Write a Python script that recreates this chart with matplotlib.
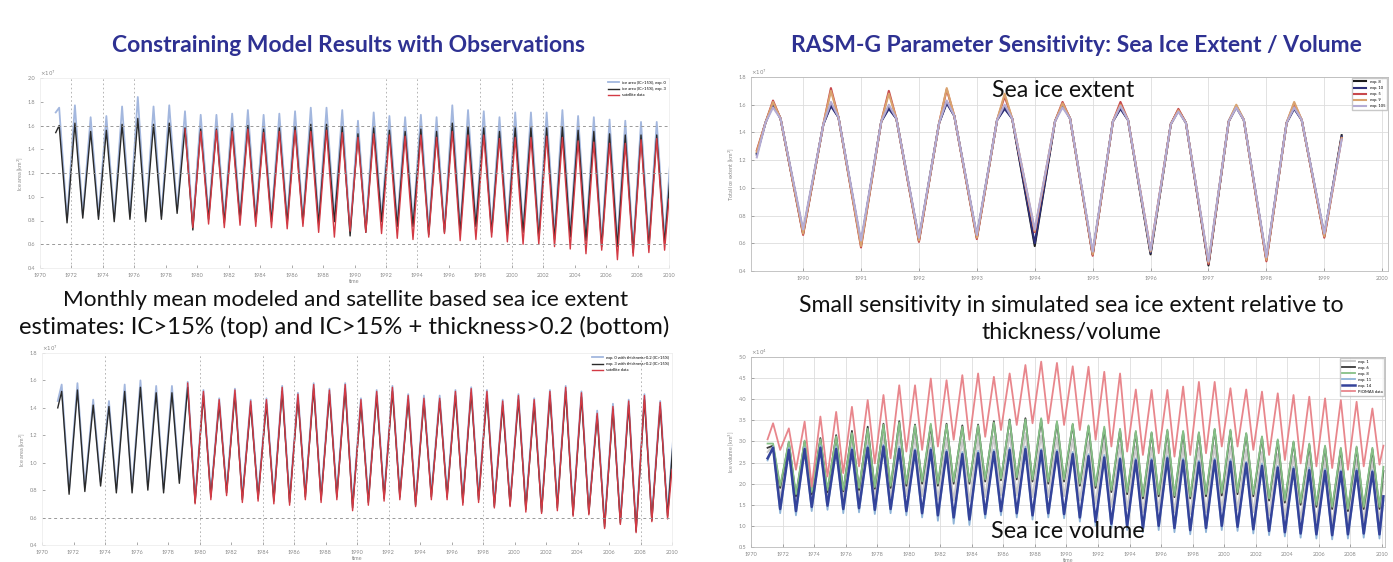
import numpy as np
import matplotlib.pyplot as plt

plt.rcParams['font.family'] = ['Lato', 'DejaVu Sans']

# ---------------- data (one value per yearly max / min) ----------------
# top left: monthly extent, IC>15%
tl_years = list(range(1971, 2010))
tl_blue_peaks = [1.75, 1.77, 1.67, 1.68, 1.76, 1.84, 1.76, 1.77, 1.72, 1.69,
                 1.69, 1.70, 1.73, 1.69, 1.70, 1.72, 1.75, 1.75, 1.73, 1.64,
                 1.71, 1.68, 1.67, 1.69, 1.67, 1.77, 1.73, 1.72, 1.67, 1.71,
                 1.71, 1.71, 1.73, 1.68, 1.67, 1.65, 1.64, 1.63, 1.63]
tl_blue_troughs = [0.81, 0.85, 0.84, 0.82, 0.84, 0.82, 0.84, 0.89, 0.76, 0.84,
                   0.81, 0.84, 0.82, 0.82, 0.81, 0.81, 0.80, 0.82, 0.71, 0.73,
                   0.82, 0.78, 0.78, 0.72, 0.73, 0.73, 0.78, 0.73, 0.72, 0.73,
                   0.69, 0.68, 0.70, 0.67, 0.62, 0.62, 0.57, 0.62, 0.65]
tl_black_peaks = [1.60, 1.62, 1.55, 1.56, 1.61, 1.66, 1.61, 1.62, 1.58, 1.57,
                  1.57, 1.58, 1.60, 1.57, 1.58, 1.59, 1.61, 1.61, 1.59, 1.53,
                  1.58, 1.56, 1.55, 1.57, 1.55, 1.62, 1.59, 1.58, 1.55, 1.58,
                  1.58, 1.58, 1.59, 1.56, 1.55, 1.53, 1.52, 1.52, 1.52]
tl_black_troughs = [0.78, 0.82, 0.81, 0.79, 0.81, 0.79, 0.81, 0.86, 0.72, 0.81,
                    0.78, 0.81, 0.79, 0.79, 0.78, 0.78, 0.77, 0.79, 0.67, 0.70,
                    0.79, 0.75, 0.75, 0.68, 0.70, 0.70, 0.75, 0.70, 0.68, 0.70,
                    0.65, 0.64, 0.66, 0.63, 0.58, 0.58, 0.53, 0.58, 0.61]
tl_red_years = list(range(1979, 2010))
tl_red_peaks = [1.57, 1.55, 1.56, 1.55, 1.57, 1.54, 1.55, 1.56, 1.55, 1.56,
                1.54, 1.50, 1.53, 1.52, 1.51, 1.52, 1.50, 1.55, 1.52, 1.52,
                1.49, 1.50, 1.50, 1.51, 1.50, 1.47, 1.46, 1.45, 1.45, 1.48, 1.49]
tl_red_troughs = [0.74, 0.77, 0.74, 0.76, 0.75, 0.74, 0.73, 0.75, 0.70, 0.66,
                  0.71, 0.70, 0.69, 0.65, 0.64, 0.66, 0.69, 0.63, 0.64, 0.66,
                  0.62, 0.60, 0.60, 0.58, 0.56, 0.52, 0.55, 0.47, 0.50, 0.53, 0.55]

# bottom left: IC>15% + thickness>0.2
bl_years = list(range(1971, 2010))
bl_blue_peaks = [1.57, 1.58, 1.46, 1.45, 1.57, 1.60, 1.56, 1.56, 1.59, 1.53,
                 1.47, 1.54, 1.46, 1.47, 1.56, 1.51, 1.58, 1.54, 1.58, 1.47,
                 1.53, 1.56, 1.50, 1.49, 1.49, 1.53, 1.55, 1.53, 1.46, 1.50,
                 1.47, 1.53, 1.56, 1.52, 1.38, 1.43, 1.46, 1.50, 1.45]
bl_blue_troughs = [0.80, 0.82, 0.86, 0.81, 0.81, 0.83, 0.81, 0.88, 0.74, 0.78,
                   0.81, 0.76, 0.77, 0.75, 0.74, 0.78, 0.76, 0.78, 0.70, 0.74,
                   0.77, 0.78, 0.72, 0.78, 0.78, 0.74, 0.76, 0.71, 0.72, 0.69,
                   0.67, 0.70, 0.65, 0.66, 0.56, 0.59, 0.53, 0.61, 0.64]
bl_black_peaks = [1.52, 1.53, 1.42, 1.41, 1.52, 1.55, 1.51, 1.51, 1.55, 1.49,
                  1.43, 1.50, 1.42, 1.43, 1.52, 1.47, 1.54, 1.50, 1.54, 1.43,
                  1.49, 1.52, 1.46, 1.45, 1.45, 1.49, 1.51, 1.49, 1.42, 1.46,
                  1.43, 1.49, 1.52, 1.48, 1.34, 1.39, 1.42, 1.46, 1.41]
bl_black_troughs = [0.77, 0.79, 0.83, 0.78, 0.78, 0.80, 0.78, 0.85, 0.71, 0.75,
                    0.78, 0.73, 0.74, 0.72, 0.71, 0.75, 0.73, 0.75, 0.67, 0.71,
                    0.74, 0.75, 0.69, 0.75, 0.75, 0.71, 0.73, 0.68, 0.69, 0.66,
                    0.64, 0.67, 0.62, 0.63, 0.53, 0.56, 0.50, 0.58, 0.61]
bl_red_years = list(range(1979, 2010))
bl_red_peaks = [1.58, 1.52, 1.46, 1.53, 1.45, 1.46, 1.55, 1.50, 1.57, 1.53,
                1.57, 1.46, 1.52, 1.55, 1.49, 1.47, 1.47, 1.52, 1.54, 1.52,
                1.45, 1.49, 1.46, 1.52, 1.55, 1.51, 1.36, 1.41, 1.45, 1.49, 1.44]
bl_red_troughs = [0.70, 0.73, 0.76, 0.71, 0.72, 0.70, 0.69, 0.73, 0.71, 0.73,
                  0.65, 0.69, 0.72, 0.73, 0.68, 0.73, 0.73, 0.69, 0.71, 0.67,
                  0.68, 0.64, 0.63, 0.65, 0.61, 0.62, 0.52, 0.55, 0.49, 0.57, 0.59]

# top right: sea ice extent, 5 experiments (minimum at each year tick)
tr_years = list(range(1990, 2000))
tr_names = ['exp. 8', 'exp. 10', 'exp. 5', 'exp. 9', 'exp. 105']
tr_peaks = {
    'exp. 8':   [1.61, 1.60, 1.58, 1.62, 1.58, 1.60, 1.58, 1.56, 1.59, 1.58],
    'exp. 10':  [1.60, 1.59, 1.57, 1.61, 1.57, 1.60, 1.57, 1.56, 1.58, 1.57],
    'exp. 5':   [1.63, 1.72, 1.70, 1.71, 1.66, 1.62, 1.62, 1.57, 1.59, 1.61],
    'exp. 9':   [1.62, 1.70, 1.68, 1.72, 1.68, 1.61, 1.60, 1.56, 1.60, 1.62],
    'exp. 105': [1.58, 1.62, 1.60, 1.63, 1.60, 1.58, 1.59, 1.55, 1.58, 1.58],
}
tr_troughs = {
    'exp. 8':   [0.67, 0.59, 0.62, 0.64, 0.58, 0.52, 0.52, 0.44, 0.48, 0.65],
    'exp. 10':  [0.68, 0.60, 0.63, 0.65, 0.60, 0.52, 0.53, 0.45, 0.49, 0.66],
    'exp. 5':   [0.66, 0.57, 0.61, 0.63, 0.68, 0.51, 0.55, 0.45, 0.47, 0.64],
    'exp. 9':   [0.67, 0.58, 0.62, 0.64, 0.69, 0.52, 0.54, 0.46, 0.48, 0.65],
    'exp. 105': [0.70, 0.62, 0.64, 0.66, 0.70, 0.54, 0.55, 0.47, 0.50, 0.67],
}
# shoulder values just before / after each winter maximum (all runs lie together there)
tr_rise_shoulder = [1.47, 1.46, 1.48, 1.47, 1.49, 1.48, 1.48, 1.46, 1.48, 1.47]
tr_fall_shoulder = [1.50, 1.51, 1.50, 1.52, 1.50, 1.50, 1.49, 1.47, 1.49, 1.49]
tr_start = {'exp. 8': 1.25, 'exp. 10': 1.24, 'exp. 5': 1.27, 'exp. 9': 1.26, 'exp. 105': 1.22}
tr_end = {'exp. 8': 1.38, 'exp. 10': 1.37, 'exp. 5': 1.36, 'exp. 9': 1.36, 'exp. 105': 1.35}
tr_colors = {'exp. 8': '#1c1c1c', 'exp. 10': '#2d2f78', 'exp. 5': '#c8484c',
             'exp. 9': '#d9a36e', 'exp. 105': '#b4acd4'}

# bottom right: sea ice volume, 5 experiments + PIOMAS
br_years = list(range(1971, 2010))
br_names = ['exp. 1', 'exp. 6', 'exp. 8', 'exp. 11', 'exp. 14', 'PIOMAS data']
br_peaks = {
    'exp. 1': [2.90, 2.90, 2.92, 2.95, 3.00, 3.05, 3.10, 3.15, 3.15, 3.10,
               3.12, 3.08, 3.05, 3.08, 3.12, 3.18, 3.20, 3.15, 3.10, 3.05,
               3.00, 2.98, 2.92, 2.88, 2.85, 2.90, 2.88, 2.85, 2.90, 2.88,
               2.82, 2.75, 2.70, 2.65, 2.60, 2.58, 2.55, 2.58, 2.55],
    'exp. 6': [2.90, 2.98, 3.00, 3.08, 3.15, 3.25, 3.35, 3.42, 3.48, 3.40,
               3.38, 3.42, 3.38, 3.40, 3.48, 3.52, 3.55, 3.52, 3.45, 3.40,
               3.35, 3.30, 3.28, 3.22, 3.20, 3.25, 3.22, 3.20, 3.28, 3.25,
               3.18, 3.10, 3.02, 2.98, 2.92, 2.88, 2.82, 2.85, 2.82],
    'exp. 8': [2.95, 3.00, 3.02, 3.05, 3.12, 3.20, 3.30, 3.40, 3.45, 3.38,
               3.42, 3.40, 3.35, 3.38, 3.45, 3.50, 3.52, 3.55, 3.48, 3.42,
               3.38, 3.35, 3.30, 3.25, 3.22, 3.28, 3.25, 3.22, 3.30, 3.28,
               3.20, 3.12, 3.05, 3.00, 2.95, 2.90, 2.85, 2.88, 2.85],
    'exp. 11': [2.88, 2.85, 2.86, 2.90, 2.88, 2.85, 2.90, 2.92, 2.88, 2.82,
                2.85, 2.80, 2.75, 2.78, 2.80, 2.85, 2.88, 2.82, 2.80, 2.75,
                2.70, 2.68, 2.62, 2.60, 2.60, 2.65, 2.60, 2.55, 2.60, 2.58,
                2.52, 2.48, 2.42, 2.40, 2.38, 2.35, 2.32, 2.35, 2.32],
    'exp. 14': [2.85, 2.80, 2.82, 2.85, 2.82, 2.80, 2.85, 2.88, 2.82, 2.78,
                2.80, 2.75, 2.70, 2.72, 2.75, 2.80, 2.82, 2.78, 2.75, 2.70,
                2.65, 2.62, 2.58, 2.55, 2.55, 2.60, 2.55, 2.50, 2.55, 2.52,
                2.48, 2.42, 2.38, 2.35, 2.32, 2.30, 2.28, 2.30, 2.28],
    'PIOMAS data': [3.43, 3.31, 3.47, 3.59, 3.70, 3.82, 3.98, 4.10, 4.33, 4.33,
                    4.49, 4.45, 4.57, 4.61, 4.53, 4.61, 4.81, 4.89, 4.86, 4.78,
                    4.77, 4.65, 4.61, 4.23, 4.22, 4.22, 4.30, 4.41, 4.41, 4.26,
                    4.23, 4.18, 4.14, 4.10, 4.06, 4.02, 3.98, 3.94, 3.78],
}
br_troughs = {
    'exp. 1': [1.65, 1.55, 1.60, 1.65, 1.62, 1.65, 1.65, 1.68, 1.70, 1.70,
               1.62, 1.60, 1.58, 1.68, 1.72, 1.72, 1.68, 1.68, 1.70, 1.60,
               1.52, 1.45, 1.40, 1.32, 1.38, 1.32, 1.28, 1.32, 1.38, 1.38,
               1.32, 1.25, 1.20, 1.15, 1.10, 1.05, 1.05, 1.10, 1.08],
    'exp. 6': [1.90, 1.70, 1.75, 1.80, 1.82, 1.85, 1.88, 1.90, 1.95, 2.00,
               1.95, 2.00, 2.00, 2.05, 2.08, 2.10, 2.05, 2.00, 2.05, 1.95,
               1.90, 1.80, 1.75, 1.65, 1.70, 1.68, 1.65, 1.70, 1.72, 1.75,
               1.70, 1.60, 1.55, 1.50, 1.45, 1.40, 1.35, 1.40, 1.40],
    'exp. 8': [1.95, 1.75, 1.80, 1.85, 1.85, 1.90, 1.92, 1.95, 2.00, 2.05,
               2.00, 2.05, 2.05, 2.10, 2.12, 2.15, 2.10, 2.05, 2.10, 2.00,
               1.95, 1.85, 1.80, 1.70, 1.75, 1.72, 1.70, 1.75, 1.78, 1.80,
               1.75, 1.65, 1.60, 1.55, 1.50, 1.45, 1.40, 1.45, 1.45],
    'exp. 11': [1.30, 1.25, 1.35, 1.38, 1.30, 1.32, 1.28, 1.30, 1.25, 1.20,
                1.12, 1.05, 1.02, 1.18, 1.25, 1.20, 1.15, 1.20, 1.18, 1.10,
                1.00, 0.95, 0.90, 0.85, 0.90, 0.85, 0.80, 0.85, 0.90, 0.88,
                0.82, 0.78, 0.75, 0.72, 0.70, 0.68, 0.70, 0.72, 0.70],
    'exp. 14': [1.40, 1.35, 1.45, 1.48, 1.40, 1.42, 1.38, 1.40, 1.35, 1.30,
                1.25, 1.20, 1.15, 1.28, 1.35, 1.30, 1.25, 1.30, 1.28, 1.20,
                1.10, 1.05, 1.00, 0.95, 1.00, 0.95, 0.90, 0.95, 1.00, 0.98,
                0.92, 0.88, 0.85, 0.82, 0.80, 0.78, 0.80, 0.82, 0.80],
    'PIOMAS data': [2.80, 2.33, 1.93, 2.17, 2.25, 2.41, 2.48, 2.60, 2.76, 2.80,
                    2.88, 3.04, 3.04, 3.11, 3.27, 3.39, 3.43, 3.43, 3.39, 3.27,
                    3.04, 2.88, 2.76, 2.68, 2.72, 2.64, 2.68, 2.72, 2.88, 2.88,
                    2.80, 2.68, 2.56, 2.48, 2.41, 2.37, 2.33, 2.41, 2.45],
}
br_start = {'exp. 1': 2.75, 'exp. 6': 2.85, 'exp. 8': 2.95, 'exp. 11': 2.55,
            'exp. 14': 2.6, 'PIOMAS data': 3.05}
br_end = {'exp. 1': 2.05, 'exp. 6': 2.3, 'exp. 8': 2.4, 'exp. 11': 1.6,
          'exp. 14': 1.7, 'PIOMAS data': 2.9}
br_colors = {'exp. 1': '#c9c9c9', 'exp. 6': '#3a3a3a', 'exp. 8': '#86c086',
             'exp. 11': '#8fb4d8', 'exp. 14': '#34439a', 'PIOMAS data': '#e8868c'}

tick_years = list(range(1970, 2012, 2))
title_color = '#2e3192'


def cycle_series(years, peaks, troughs, peak_off, trough_off, start=None, end=None,
                 rise=None, fall=None, shoulder_dt=0.15):
    # one point at each yearly maximum and minimum (plus optional shoulder points)
    t, v = [], []
    if start is not None:
        t.append(start[0])
        v.append(start[1])
    for i, (yr, p, tr) in enumerate(zip(years, peaks, troughs)):
        if rise is not None:
            t.append(yr + peak_off - shoulder_dt)
            v.append(rise[i])
        t.append(yr + peak_off)
        v.append(p)
        if fall is not None:
            t.append(yr + peak_off + shoulder_dt)
            v.append(fall[i])
        t.append(yr + trough_off)
        v.append(tr)
    if end is not None:
        t.append(end[0])
        v.append(end[1])
    return t, v


def style_axes(ax, spine_color='#d0d0d0'):
    for s in ax.spines.values():
        s.set_color(spine_color)
        s.set_linewidth(0.6)
    ax.tick_params(labelsize=4, colors='#888888', length=2, width=0.5, direction='in')


fig = plt.figure(figsize=(13.93, 5.62), dpi=100)
W, H = 1393.0, 562.0


def px_axes(l, t, r, b):
    return fig.add_axes([l / W, 1 - b / H, (r - l) / W, (b - t) / H])


# ---------------- top left ----------------
ax = px_axes(40, 78, 669, 268)
t, v = cycle_series(tl_years, tl_blue_peaks, tl_blue_troughs, 0.22, 0.72, (1971.0, 1.71), (2010.1, 1.34))
ax.plot(t, v, color='#a3b7de', lw=1.3, label='ice area (IC>15%), exp. 0')
t, v = cycle_series(tl_years, tl_black_peaks, tl_black_troughs, 0.22, 0.72, (1971.0, 1.54), (2010.1, 1.22))
ax.plot(t, v, color='#2a2a2a', lw=1.0, label='ice area (IC>15%), exp. 3')
t, v = cycle_series(tl_red_years, tl_red_peaks, tl_red_troughs, 0.22, 0.72, None, (2010.0, 0.98))
ax.plot(t, v, color='#d33a44', lw=1.0, label='satellite data')
for yv in [1.6, 1.2, 0.6]:
    ax.axhline(yv, color='#999999', lw=0.7, ls=(0, (3, 3)))
for xv in [1972, 1974, 1976, 1992, 1994, 1998, 2000, 2002]:
    ax.axvline(xv, color='#aaaaaa', lw=0.6, ls=(0, (2, 3)))
ax.set_xlim(1970, 2010)
ax.set_ylim(0.4, 2.0)
ax.set_xticks(tick_years)
ax.set_yticks([0.4, 0.6, 0.8, 1.0, 1.2, 1.4, 1.6, 1.8, 2.0])
ax.set_xlabel('time', fontsize=4, color='#888888', labelpad=1)
ax.set_ylabel('Ice area [km$^2$]', fontsize=4, color='#888888', labelpad=2)
ax.text(0.0, 1.0, r'$\times10^7$', transform=ax.transAxes, fontsize=4, color='#888888', va='bottom')
style_axes(ax, '#eeeeee')
ax.legend(loc='upper right', fontsize=3, frameon=False, handlelength=2.5, borderaxespad=0.3)

# ---------------- bottom left ----------------
ax = px_axes(42, 353, 672, 545)
t, v = cycle_series(bl_years, bl_blue_peaks, bl_blue_troughs, 0.25, 0.72, (1971.0, 1.45), (2010.1, 1.22))
ax.plot(t, v, color='#a3b7de', lw=1.3, label='exp. 0 with thickness>0.2 (IC>15%)')
t, v = cycle_series(bl_years, bl_black_peaks, bl_black_troughs, 0.25, 0.72, (1971.0, 1.40), (2010.1, 1.20))
ax.plot(t, v, color='#2a2a2a', lw=1.0, label='exp. 3 with thickness>0.2 (IC>15%)')
t, v = cycle_series(bl_red_years, bl_red_peaks, bl_red_troughs, 0.25, 0.72, None, (2010.0, 0.95))
ax.plot(t, v, color='#d33a44', lw=1.0, label='satellite data')
ax.axhline(0.6, color='#999999', lw=0.7, ls=(0, (3, 3)))
for xv in [1974, 1980, 1984, 1986, 1990, 1992, 1998, 2008]:
    ax.axvline(xv, color='#aaaaaa', lw=0.6, ls=(0, (2, 3)))
ax.set_xlim(1970, 2010)
ax.set_ylim(0.4, 1.8)
ax.set_xticks(tick_years)
ax.set_yticks([0.4, 0.6, 0.8, 1.0, 1.2, 1.4, 1.6, 1.8])
ax.set_xlabel('time', fontsize=4, color='#888888', labelpad=1)
ax.set_ylabel('Ice area [km$^2$]', fontsize=4, color='#888888', labelpad=2)
ax.text(0.0, 1.0, r'$\times10^7$', transform=ax.transAxes, fontsize=4, color='#888888', va='bottom')
style_axes(ax, '#eeeeee')
ax.legend(loc='upper right', fontsize=3, frameon=False, handlelength=2.5, borderaxespad=0.3)

# ---------------- top right ----------------
ax = px_axes(751, 77, 1388, 271)
for name in tr_names:
    t, v = cycle_series(tr_years, tr_peaks[name], tr_troughs[name], -0.52, 0.0,
                        (1989.2, tr_start[name]), (1999.3, tr_end[name]),
                        rise=tr_rise_shoulder, fall=tr_fall_shoulder, shoulder_dt=0.13)
    ax.plot(t, v, color=tr_colors[name], lw=1.5, label=name)
ax.set_xlim(1989.1, 2000.1)
ax.set_ylim(0.4, 1.8)
ax.set_xticks(list(range(1990, 2001)))
ax.set_yticks([0.4, 0.6, 0.8, 1.0, 1.2, 1.4, 1.6, 1.8])
ax.grid(True, color='#dddddd', lw=0.6)
ax.set_ylabel('Total ice extent [km$^2$]', fontsize=4, color='#888888', labelpad=2)
ax.text(0.0, 1.0, r'$\times10^7$', transform=ax.transAxes, fontsize=4, color='#888888', va='bottom')
style_axes(ax, '#bbbbbb')
ax.legend(loc='upper right', fontsize=3, frameon=True, handlelength=3, borderaxespad=0.3,
          edgecolor='#bbbbbb', fancybox=False)
ax.text(0.49, 0.93, 'Sea ice extent', transform=ax.transAxes, fontsize=16.7,
        ha='center', va='center', color='#111111')

# ---------------- bottom right ----------------
ax = px_axes(751, 357, 1385, 547)
for name in br_names:
    lw = 1.8 if name == 'exp. 14' else 1.3
    t, v = cycle_series(br_years, br_peaks[name], br_troughs[name], 0.4, 0.85,
                        (1971.05, br_start[name]), (2010.1, br_end[name]))
    ax.plot(t, v, color=br_colors[name], lw=lw, label=name)
ax.set_xlim(1970, 2010.2)
ax.set_ylim(0.5, 5.0)
ax.set_xticks(tick_years)
ax.set_yticks([0.5, 1.0, 1.5, 2.0, 2.5, 3.0, 3.5, 4.0, 4.5, 5.0])
ax.grid(True, color='#dddddd', lw=0.6)
ax.set_xlabel('time', fontsize=4, color='#888888', labelpad=1)
ax.set_ylabel('Ice volume [km$^3$]', fontsize=4, color='#888888', labelpad=2)
ax.text(0.0, 1.0, r'$\times10^4$', transform=ax.transAxes, fontsize=4, color='#888888', va='bottom')
style_axes(ax, '#bbbbbb')
ax.legend(loc='upper right', fontsize=3, frameon=True, handlelength=3, borderaxespad=0.2,
          edgecolor='#bbbbbb', fancybox=False)
ax.text(0.5, 0.08, 'Sea ice volume', transform=ax.transAxes, fontsize=16.8,
        ha='center', va='center', color='#111111')

# ---------------- slide text ----------------
fig.text(348 / W, 1 - 46 / H, 'Constraining Model Results with Observations',
         ha='center', va='center', fontsize=16.5, weight='bold', color=title_color)
fig.text(1076 / W, 1 - 46 / H, 'RASM-G Parameter Sensitivity: Sea Ice Extent / Volume',
         ha='center', va='center', fontsize=16.5, weight='bold', color=title_color)
fig.text(346 / W, 1 - 300 / H, 'Monthly mean modeled and satellite based sea ice extent',
         ha='center', va='center', fontsize=16.2, color='#111111')
fig.text(344 / W, 1 - 327 / H, 'estimates: IC>15% (top) and IC>15% + thickness>0.2 (bottom)',
         ha='center', va='center', fontsize=17.2, color='#111111')
fig.text(1071 / W, 1 - 305 / H, 'Small sensitivity in simulated sea ice extent relative to',
         ha='center', va='center', fontsize=16.7, color='#111111')
fig.text(1071 / W, 1 - 333 / H, 'thickness/volume',
         ha='center', va='center', fontsize=16.7, color='#111111')

plt.savefig('out.png', dpi=100)
